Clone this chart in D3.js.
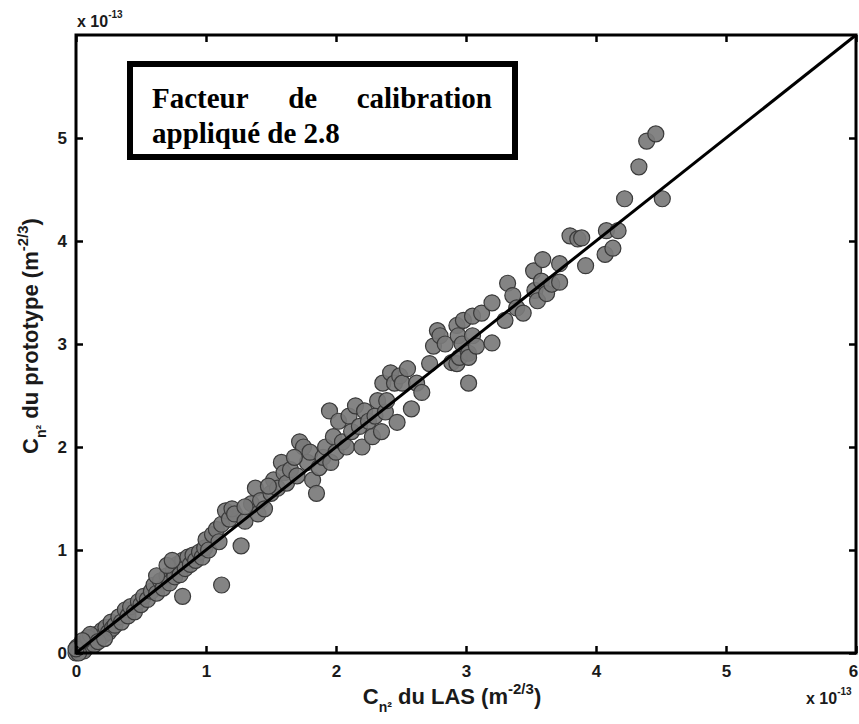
<!DOCTYPE html>
<html>
<head>
<meta charset="utf-8">
<script src="https://cdn.jsdelivr.net/npm/d3@7"></script>
<style>
  body { margin: 0; background: #fff; }
  text { font-family: "Liberation Sans", Arial, sans-serif; font-weight: bold; fill: #1a1a1a; }
</style>
</head>
<body>
<div id="chart"></div>
<script>
// values in units of 1e-13 m^-2/3
var lasValues = [
  0.00,0.02,0.03,0.05,0.04,0.07,0.08,0.10,0.10,0.12,0.13,0.15,0.16,0.18,0.20,0.21,0.23,0.25,0.27,0.28,0.30,0.01,0.06,0.09,0.14,0.02,0.00,0.11,0.17,0.22,0.05,
  0.33,0.35,0.38,0.40,0.42,0.45,0.48,0.50,0.52,0.55,0.58,0.60,0.62,0.65,0.67,0.70,0.72,0.75,0.76,0.78,0.80,0.82,0.84,0.86,0.88,0.90,0.92,0.95,0.97,0.99,0.82,0.62,0.70,0.74,
  1.00,1.02,1.05,1.08,1.10,1.12,1.12,1.15,1.18,1.20,1.22,1.27,1.30,1.35,1.38,1.40,1.42,1.45,1.50,1.52,1.55,1.58,1.60,1.62,1.65,1.70,1.72,1.75,1.78,1.80,1.82,1.85,1.87,1.90,1.92,1.95,1.96,1.98,1.30,1.48,1.68,
  2.00,2.02,2.05,2.08,2.10,2.12,2.15,2.18,2.20,2.22,2.25,2.28,2.30,2.32,2.35,
  2.36,2.38,2.39,2.42,2.45,2.47,2.49,2.51,2.55,2.58,2.62,2.66,2.72,2.75,2.78,2.80,2.84,2.89,2.93,2.93,2.94,2.95,2.97,2.98,3.02,3.02,3.02,3.05,3.05,3.08,3.12,3.20,3.20,
  3.30,3.32,3.36,3.39,3.44,3.52,3.53,3.55,3.58,3.59,3.62,3.66,3.72,3.72,3.80,3.86,3.89,3.92,4.07,4.08,4.13,4.17,4.22,4.33,4.39,4.46,4.51
];
var protoValues = [
  0.00,0.03,0.01,0.06,0.09,0.04,0.10,0.07,0.13,0.10,0.16,0.12,0.18,0.15,0.22,0.17,0.25,0.20,0.30,0.24,0.27,0.06,0.02,0.15,0.08,0.00,0.04,0.18,0.11,0.14,0.12,
  0.35,0.30,0.42,0.36,0.45,0.40,0.50,0.47,0.55,0.52,0.60,0.66,0.58,0.70,0.63,0.75,0.68,0.80,0.74,0.86,0.76,0.90,0.82,0.93,0.86,0.95,0.90,0.98,0.93,1.02,0.55,0.75,0.85,0.90,
  1.10,1.00,1.15,1.20,1.08,1.25,0.66,1.38,1.30,1.40,1.35,1.04,1.28,1.45,1.60,1.35,1.48,1.40,1.55,1.68,1.60,1.85,1.75,1.65,1.78,1.72,2.05,2.00,1.85,1.95,1.68,1.55,1.80,1.90,2.00,2.35,1.85,2.10,1.42,1.62,1.90,
  1.95,2.25,2.05,2.00,2.30,2.15,2.40,2.20,2.00,2.35,2.25,2.10,2.30,2.45,2.15,
  2.62,2.34,2.45,2.72,2.62,2.24,2.69,2.62,2.76,2.37,2.62,2.53,2.81,2.98,3.13,3.08,3.00,2.82,3.18,2.81,3.08,2.87,3.00,3.23,2.91,2.87,2.62,3.27,3.08,2.98,3.30,3.40,3.01,
  3.23,3.59,3.47,3.35,3.30,3.71,3.52,3.42,3.61,3.82,3.49,3.58,3.78,3.60,4.05,4.02,4.03,3.76,3.87,4.10,3.93,4.10,4.41,4.72,4.97,5.04,4.41
];
var xTicks = [0, 1, 2, 3, 4, 5, 6];
var yTicks = [0, 1, 2, 3, 4, 5];
var exponentLabel = "-13";
var noteLines = ["Facteur de calibration", "appliqué de 2.8"];

var data = lasValues.map(function(d, i) { return { las: d, proto: protoValues[i] }; });

var W = 859, H = 724;
var margin = {top: 35, right: 3, bottom: 71, left: 76};
var width = W - margin.left - margin.right,
    height = H - margin.top - margin.bottom;

var svg = d3.select("#chart").append("svg")
    .attr("width", W).attr("height", H);
var g = svg.append("g")
    .attr("transform", "translate(" + margin.left + "," + margin.top + ")");

var x = d3.scaleLinear().domain([0, 6]).range([0, width]);
var y = d3.scaleLinear().domain([0, 6]).range([height, 0]);

// points
g.append("g").selectAll("circle")
  .data(data)
  .enter().append("circle")
    .attr("cx", function(d) { return x(d.las); })
    .attr("cy", function(d) { return y(d.proto); })
    .attr("r", 8)
    .attr("fill", "#7a7a7a")
    .attr("fill-opacity", 0.92)
    .attr("stroke", "#3a3a3a")
    .attr("stroke-width", 1.2);

// 1:1 line
g.append("line")
  .attr("x1", x(0)).attr("y1", y(0))
  .attr("x2", x(6)).attr("y2", y(6))
  .attr("stroke", "#000").attr("stroke-width", 3);

// axes (ticks inside, box on)
function styleAxis(sel) {
  sel.select(".domain").remove();
  sel.selectAll("line").attr("stroke", "#000").attr("stroke-width", 2.5);
  sel.selectAll("text").style("font-size", "17px");
}
var xAxis = g.append("g").attr("transform", "translate(0," + height + ")")
  .call(d3.axisBottom(x).tickValues(xTicks).tickSize(-7).tickPadding(12).tickFormat(d3.format("d")))
  .call(styleAxis);
xAxis.selectAll(".tick text").filter(function(d) { return d === 6; }).attr("dx", -3);
g.append("g")
  .call(d3.axisLeft(y).tickValues(yTicks).tickSize(-7).tickPadding(9).tickFormat(d3.format("d")))
  .call(styleAxis);
g.append("g")
  .call(d3.axisTop(x).tickValues(xTicks).tickSize(-7).tickFormat(""))
  .call(styleAxis);
g.append("g").attr("transform", "translate(" + width + ",0)")
  .call(d3.axisRight(y).tickValues(yTicks).tickSize(-7).tickFormat(""))
  .call(styleAxis);

g.append("rect")
  .attr("x", 0).attr("y", 0).attr("width", width).attr("height", height)
  .attr("fill", "none").attr("stroke", "#000").attr("stroke-width", 3);

// exponent labels
function expLabel(px, py) {
  var t = svg.append("text").attr("x", px).attr("y", py).style("font-size", "16px");
  t.append("tspan").text("x 10");
  t.append("tspan").attr("dy", -9).style("font-size", "10px").text(exponentLabel);
}
expLabel(77, 27);
expLabel(806, 704);

// axis titles
function titleText(t, body) {
  t.append("tspan").text("C");
  t.append("tspan").attr("dy", 8).style("font-size", "14px").text("n²");
  t.append("tspan").attr("dy", -8).text(body);
  t.append("tspan").attr("dy", -10).style("font-size", "15px").text("-2/3");
  t.append("tspan").attr("dy", 10).text(")");
}
var xt = svg.append("text")
  .attr("x", margin.left + width / 2 - 14).attr("y", 704)
  .attr("text-anchor", "middle").style("font-size", "22px");
titleText(xt, " du LAS (m");

var yt = svg.append("text")
  .attr("transform", "translate(38," + (margin.top + height / 2 - 8) + ")rotate(-90)")
  .attr("text-anchor", "middle").style("font-size", "22px");
titleText(yt, " du prototype (m");

// annotation box, first line justified between left and right
var note = svg.append("g");
note.append("rect")
  .attr("x", 130).attr("y", 64).attr("width", 385).attr("height", 93)
  .attr("fill", "#fff").attr("stroke", "#000").attr("stroke-width", 6);
function serifText(t) {
  return t.style("font-family", "'Liberation Serif', 'Times New Roman', serif")
    .style("font-size", "29px").style("font-weight", "bold").style("fill", "#000");
}
var left = 152, right = 492;
var words = noteLines[0].split(" ");
var wEls = words.map(function(w) { return serifText(note.append("text").attr("y", 108).text(w)); });
var widths = wEls.map(function(t) { return t.node().getComputedTextLength(); });
var gap = (right - left - d3.sum(widths)) / (words.length - 1);
var cx = left;
wEls.forEach(function(t, i) { t.attr("x", cx); cx += widths[i] + gap; });
serifText(note.append("text").attr("x", left).attr("y", 143).text(noteLines[1]));
</script>
</body>
</html>
